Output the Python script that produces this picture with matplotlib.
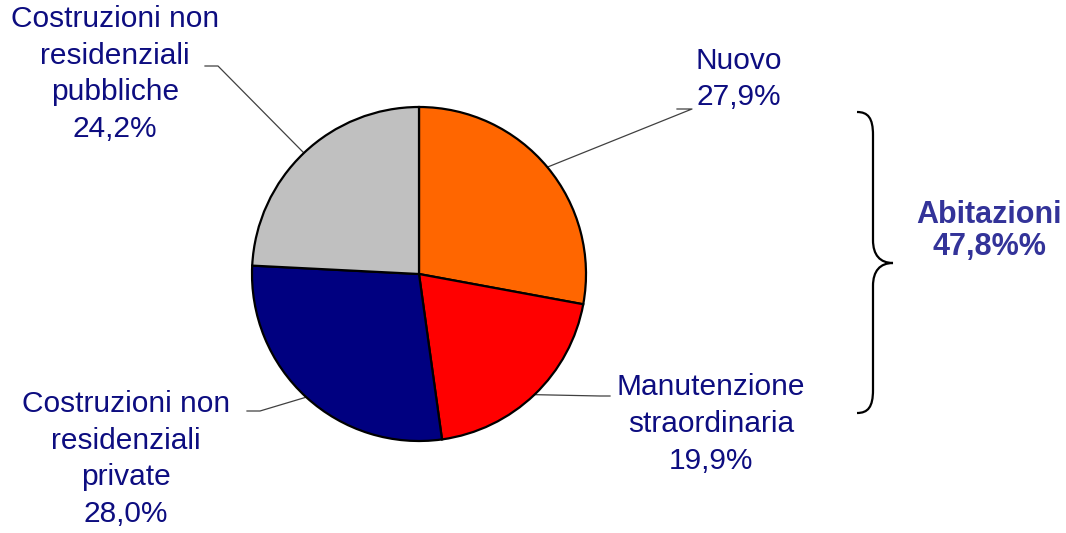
import numpy as np
import matplotlib
matplotlib.use('Agg')
import matplotlib.pyplot as plt
from matplotlib.path import Path
from matplotlib.patches import PathPatch

plt.rcParams['font.family'] = ['Liberation Sans', 'DejaVu Sans']

# data
labels = ['Nuovo', 'Manutenzione\nstraordinaria',
          'Costruzioni non\nresidenziali\nprivate',
          'Costruzioni non\nresidenziali\npubbliche']
values = [27.9, 19.9, 28.0, 24.2]
colors = ['#ff6600', '#ff0000', '#000080', '#c0c0c0']
group_label = 'Abitazioni'
group_value = '47,8%%'

W, H = 1066, 533
txt_col = '#0d0d80'


def Y(y):
    # pixel row -> data y
    return H - y


fig = plt.figure(figsize=(W / 100, H / 100), dpi=100)
ax = fig.add_axes([0, 0, 1, 1])

cx, cy, r = 419, Y(274), 167
wedges, _ = ax.pie(values, colors=colors, startangle=90, counterclock=False,
                   radius=r, center=(cx, cy), frame=True,
                   wedgeprops=dict(edgecolor='black', linewidth=1.6))
ax.set_xlim(0, W)
ax.set_ylim(0, H)
ax.set_aspect('equal')
ax.axis('off')

# label text positions and leader elbows (pixels)
text_pos = [(739, 79), (711, 424), (126, 459), (115, 74)]
elbows = [[(692, 109), (677, 109)],
          [(600, 396), (610, 396)],
          [(260, 411), (247, 411)],
          [(218, 66), (205, 66)]]

for w, lab, val, tp, el in zip(wedges, labels, values, text_pos, elbows):
    ang = np.deg2rad((w.theta1 + w.theta2) / 2)
    ax0 = cx + r * np.cos(ang)
    ay0 = cy + r * np.sin(ang)
    xs = [ax0] + [p[0] for p in el]
    ys = [ay0] + [Y(p[1]) for p in el]
    ax.plot(xs, ys, color='#404040', lw=0.9, zorder=0)
    s = lab + '\n' + ('%.1f%%' % val).replace('.', ',')
    ax.text(tp[0], Y(tp[1]), s, ha='center', va='center', multialignment='center',
            fontsize=21.5, color=txt_col, linespacing=1.4)

# brace
verts = [(857, 112), (868, 112), (873, 118), (873, 135),
         (873, 240),
         (873, 255), (880, 263), (893, 263),
         (880, 263), (873, 271), (873, 286),
         (873, 390),
         (873, 407), (868, 413), (857, 413)]
codes = [Path.MOVETO, Path.CURVE4, Path.CURVE4, Path.CURVE4,
         Path.LINETO,
         Path.CURVE4, Path.CURVE4, Path.CURVE4,
         Path.CURVE4, Path.CURVE4, Path.CURVE4,
         Path.LINETO,
         Path.CURVE4, Path.CURVE4, Path.CURVE4]
verts = [(x, Y(y)) for x, y in verts]
ax.add_patch(PathPatch(Path(verts, codes), fill=False, edgecolor='black', lw=1.6))

ax.text(989, Y(231), group_label + '\n' + group_value, ha='center', va='center',
        fontsize=22, fontweight='bold', color='#333399', linespacing=1.1)

fig.savefig('out.png', dpi=100)
